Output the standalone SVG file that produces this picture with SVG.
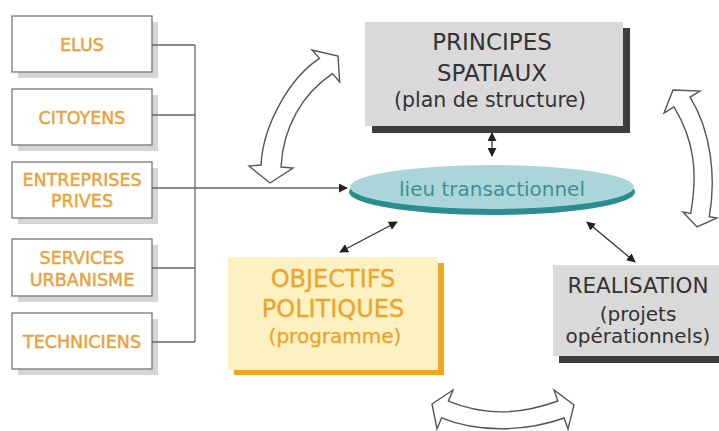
<svg xmlns="http://www.w3.org/2000/svg" width="719" height="431" viewBox="0 0 719 431">
<style>
.lbox{fill:#fff;stroke:#777;stroke-width:1.3}
.lsh{fill:#d6d6d6}
.ltxt{font-family:"DejaVu Sans",sans-serif;font-size:17.5px;fill:#e9a23b;stroke:#e9a23b;stroke-width:0.45;text-anchor:middle}
.gbox{fill:#d9d9d9}
.gsh{fill:#3d3d3d}
.gtxt{font-family:"DejaVu Sans",sans-serif;fill:#333;text-anchor:middle}
.otxt{font-family:"DejaVu Sans",sans-serif;fill:#e9a52e;stroke:#e9a52e;stroke-width:0.3;text-anchor:middle}
.conn{fill:none;stroke:#666;stroke-width:1.3}
.arr{fill:none;stroke:#333;stroke-width:1.3}
.big{fill:#fff;stroke:#555;stroke-width:1.4;stroke-linejoin:miter}
</style>
<defs>
<marker id="ah" viewBox="0 0 10 10" refX="9" refY="5" markerWidth="9" markerHeight="9" markerUnits="userSpaceOnUse" orient="auto-start-reverse">
<path d="M0,0 L10,5 L0,10 Z" fill="#222"/>
</marker>
</defs>

<g id="elus">
<rect class="lsh" x="18" y="22" width="140" height="56"/>
<rect class="lbox" x="12" y="16" width="140" height="56"/>
<text class="ltxt" x="82" y="51">ELUS</text>
</g>
<g id="citoyens">
<rect class="lsh" x="18" y="95" width="140" height="56"/>
<rect class="lbox" x="12" y="89" width="140" height="56"/>
<text class="ltxt" x="82" y="124">CITOYENS</text>
</g>
<g id="entreprises">
<rect class="lsh" x="18" y="168" width="140" height="56"/>
<rect class="lbox" x="12" y="162" width="140" height="56"/>
<text class="ltxt" x="82" y="186">ENTREPRISES</text>
<text class="ltxt" x="82" y="207">PRIVES</text>
</g>
<g id="services">
<rect class="lsh" x="18" y="245" width="140" height="57"/>
<rect class="lbox" x="12" y="239" width="140" height="57"/>
<text class="ltxt" x="82" y="264">SERVICES</text>
<text class="ltxt" x="82" y="286">URBANISME</text>
</g>
<g id="techniciens">
<rect class="lsh" x="18" y="319" width="140" height="56"/>
<rect class="lbox" x="12" y="313" width="140" height="56"/>
<text class="ltxt" x="82" y="348">TECHNICIENS</text>
</g>

<g id="principes">
<rect class="gsh" x="372" y="28" width="258" height="105"/>
<rect class="gbox" x="365" y="22" width="258" height="104"/>
<text class="gtxt" x="492" y="50" font-size="23">PRINCIPES</text>
<text class="gtxt" x="492" y="81" font-size="23">SPATIAUX</text>
<text class="gtxt" x="490" y="107" font-size="20.5">(plan de structure)</text>
</g>

<g id="lieu">
<ellipse cx="492" cy="192" rx="143" ry="23" fill="#2b8c91"/>
<ellipse cx="492" cy="187" rx="142" ry="22" fill="#aad6d9"/>
<text x="492" y="196" font-family="DejaVu Sans,sans-serif" font-size="20" fill="#3f8f95" text-anchor="middle">lieu transactionnel</text>
</g>

<g id="objectifs">
<rect x="234" y="263" width="210" height="112" fill="#f0a51f"/>
<rect x="228" y="257" width="210" height="113" fill="#fdf1c2"/>
<text class="otxt" x="333" y="287" font-size="24">OBJECTIFS</text>
<text class="otxt" x="333" y="317" font-size="24">POLITIQUES</text>
<text class="otxt" x="335" y="343" font-size="20">(programme)</text>
</g>

<g id="realisation">
<rect class="gsh" x="559" y="271" width="170" height="92"/>
<rect class="gbox" x="553" y="265" width="170" height="91"/>
<text class="gtxt" x="638" y="293" font-size="21.5">REALISATION</text>
<text class="gtxt" x="638" y="321" font-size="20">(projets</text>
<text class="gtxt" x="638" y="343" font-size="20">opérationnels)</text>
</g>

<g id="connectors">
<path class="conn" d="M152,45 H195 M152,115 H195 M152,268 H195 M152,342 H195 M195,45 V342"/>
<path class="conn" d="M152,188 H347" marker-end="url(#ah)"/>
<path class="arr" d="M492,133 V156" marker-start="url(#ah)" marker-end="url(#ah)"/>
<path class="arr" d="M340,252 L397,222" marker-start="url(#ah)" marker-end="url(#ah)"/>
<path class="arr" d="M587,222 L635,262" marker-start="url(#ah)" marker-end="url(#ah)"/>
<path class="big" d="M261,165 C263,125 289.5,78 319.5,58.4 L312,50 L338,56 L339.7,82 L332.5,73.6 C302.5,93.6 283,127 281,167 L293,168 L270,183 L249,166 Z"/>
<path class="big" d="M673.9,106.9 C694.9,140.9 697.7,174.4 690.7,213.4 L683,212 L697,227 L717,218 L709.3,216.6 C716.3,177.6 711.1,131.1 690.1,97.1 L700,91 L673,90 L664,113 Z"/>
<path class="big" d="M448.4,401.2 C485.2,416.4 520.3,414.6 557.9,401 L554,390 L574,405 L568,429 L564.1,418 C526.5,431.6 478.4,433 441.6,417.8 L437,429 L432,404 L453,390 Z"/>
</g>
</svg>
